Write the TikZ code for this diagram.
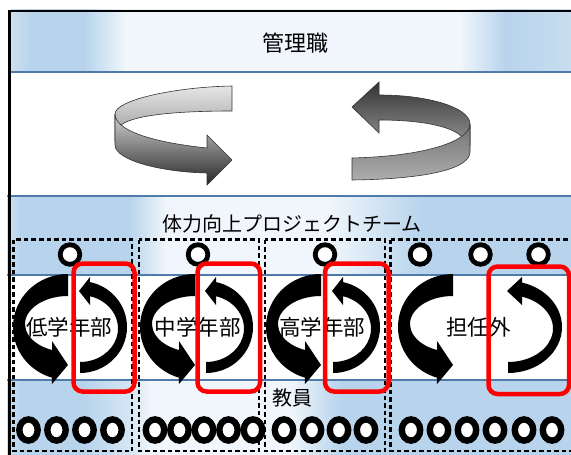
\documentclass[tikz,border=0pt]{standalone}
\usepackage{fontspec}
\newfontfamily\jpfont{Noto Sans CJK JP}
\definecolor{band}{HTML}{B8D4EC}
\definecolor{bandL}{HTML}{CFE0F0}
\definecolor{bandW}{HTML}{F0F6FB}
\definecolor{bandM}{HTML}{D5E6F4}
\definecolor{bandR}{HTML}{C8DDEF}
\definecolor{bandedge}{HTML}{4F7BAA}
% horizontal colour strip: x1, x2, y1, y2, left colour, right colour
\newcommand\gradstrip[6]{\fill[left color=#5,right color=#6] (#1,#3) rectangle (#2+0.4,#4);}
% thick curved arrow turning left (anticlockwise), centred at x = #1
\newcommand\leftcurl[1]{%
  \fill[curl,shift={(#1,327)}] (0,-53)
    arc[start angle=270,end angle=107,x radius=55,y radius=53]
    -- (-16,57) -- (0,38) -- (-16,14) -- (-16,23)
    arc[start angle=111.85,end angle=270,x radius=43,y radius=28] -- cycle;}
% thinner curved arrow turning right (clockwise): centre x, outer rx, inner rx, head offset
\newcommand\rightcurl[4]{%
  \fill[curl,shift={(#1,327)}] (0,46)
    arc[start angle=90,end angle={-acos(#4/#2)},x radius=#2,y radius=46]
    -- (#4,-50) -- (-1,-36) -- (#4,-22) -- ({#4},{1.5-33.5*sin(acos(#4/#3))})
    arc[start angle={-acos(#4/#3)},end angle=90,x radius=#3,y radius=33.5] -- cycle;}
\begin{document}
\begin{tikzpicture}[x=1pt,y=-1pt,
  edge/.style={draw=bandedge},
  title/.style={font=\jpfont\fontsize{20}{20}\selectfont,inner sep=0pt},
  part/.style={font=\jpfont\fontsize{21.5}{21.5}\selectfont,inner sep=0pt},
  group/.style={draw=black,line width=2.6pt,dash pattern=on 4.5pt off 3pt},
  tok/.style={draw=black,fill=white,line width=4.8pt},
  member/.style={draw=black,fill=white,line width=6.4pt},
  focus/.style={draw=red,line width=4.5pt,rounded corners=9pt},
  curl/.style={fill=black},
  ribbon/.style={draw=black!80,line width=0.6pt}]
\useasboundingbox (0,0) rectangle (571,455);
\clip (0,0) rectangle (571,455);
\fill[white] (0,0) rectangle (571,455);

% management band
\draw[edge,line width=0.8pt] (10,9) rectangle (580,72);
\gradstrip{10}{30}{9.4}{71}{bandL}{band}
\gradstrip{30}{85}{9.4}{71}{band}{band}
\gradstrip{85}{125}{9.4}{71}{band}{bandW}
\gradstrip{125}{460}{9.4}{71}{bandW}{bandW}
\gradstrip{460}{505}{9.4}{71}{bandW}{band}
\gradstrip{505}{571}{9.4}{71}{band}{bandR}
\draw[edge,line width=2pt] (10,72) -- (580,72);

% project team band
\gradstrip{7}{20}{196}{275}{bandL}{band}
\gradstrip{20}{130}{196}{275}{band}{band}
\gradstrip{130}{165}{196}{275}{band}{bandW}
\gradstrip{165}{330}{196}{275}{bandW}{bandW}
\gradstrip{330}{420}{196}{275}{bandW}{band}
\gradstrip{420}{571}{196}{275}{band}{band}
% staff band
\gradstrip{7}{20}{380}{456}{bandL}{band}
\gradstrip{20}{85}{380}{456}{band}{band}
\gradstrip{85}{130}{380}{456}{band}{bandM}
\gradstrip{130}{150}{380}{456}{bandM}{bandW}
\gradstrip{150}{290}{380}{456}{bandW}{bandW}
\gradstrip{290}{340}{380}{456}{bandW}{band}
\gradstrip{340}{571}{380}{456}{band}{band}
\draw[edge,line width=1.5pt] (7,196) -- (580,196);
\draw[edge,line width=2pt] (7,275) -- (580,275);
\draw[edge,line width=2pt] (7,380) -- (580,380);

% rotating ribbons
\shade[ribbon,top color=black!10,bottom color=black!40]
  (232,86) .. controls (175,87) and (115,100) .. (115,114) -- (115,140) -- (120,126)
  .. controls (130,116) and (170,111) .. (232,111) -- cycle;
\shade[ribbon,top color=black!18,bottom color=black!85]
  (115,114) .. controls (115,130) and (150,142) .. (207,148) -- (207,135) -- (232,160)
  -- (207,185) -- (207,173) .. controls (160,172) and (115,160) .. (115,145) -- cycle;
\shade[ribbon,top color=black!80,bottom color=black!42]
  (379,95) .. controls (430,95) and (470,108) .. (470,124) -- (470,145) -- (462,137)
  .. controls (452,126) and (420,120) .. (379,120) -- (379,133) -- (352,107) -- (379,82) -- cycle;
\shade[ribbon,top color=black!55,bottom color=black!32]
  (470,124) .. controls (470,140) and (430,156) .. (352,158) -- (352,180)
  .. controls (430,179) and (470,168) .. (470,152) -- cycle;

% groups
\draw[group] (13.5,239.5) rectangle (132,451);
\draw[group] (139,239.5) rectangle (259,451);
\draw[group] (265,239.5) rectangle (385,451);
\draw[group] (390.5,239.5) rectangle (590,451);

% leaders
\foreach \x in {70,198,325,420,480.5,538.5}
  \draw[tok] (\x,254.5) circle[radius=9.8];
% members
\foreach \x in {28.5,56.5,84.5,112.5,155,179.5,204,228.5,253,284,312,339,366,411,439,467,495,524,552}
  \draw[member] (\x,430) ellipse[x radius=9.2,y radius=10.6];

% cycles
\leftcurl{68}
\leftcurl{195}
\leftcurl{321}
\leftcurl{453}
\rightcurl{80}{47}{38}{10}
\rightcurl{206}{47}{38}{10}
\rightcurl{333}{47}{38}{10}
\rightcurl{508}{54}{45}{14}

% labels
\node[font=\jpfont\fontsize{22}{22}\selectfont,inner sep=0pt] (mgmt) at (295,43) {管理職};
\node[title] (team) at (292,224) {体力向上プロジェクトチーム};
\node[part] (low) at (69.5,327) {低学年部};
\node[part] (mid) at (197.5,327) {中学年部};
\node[part] (high) at (322,327) {高学年部};
\node[part] (other) at (478.5,327) {担任外};
\node[title] (staff) at (292,398) {教員};

% highlighted parts
\draw[focus] (73.5,263.5) rectangle (134.5,391.5);
\draw[focus] (197.5,263.5) rectangle (260,391.5);
\draw[focus] (325,263.5) rectangle (388.5,391.5);
\draw[focus] (488.5,266.5) rectangle (569,394);

% outer frame
\draw[line width=2.4pt] (9.5,460) -- (9.5,11) -- (580,11);
\end{tikzpicture}
\end{document}
